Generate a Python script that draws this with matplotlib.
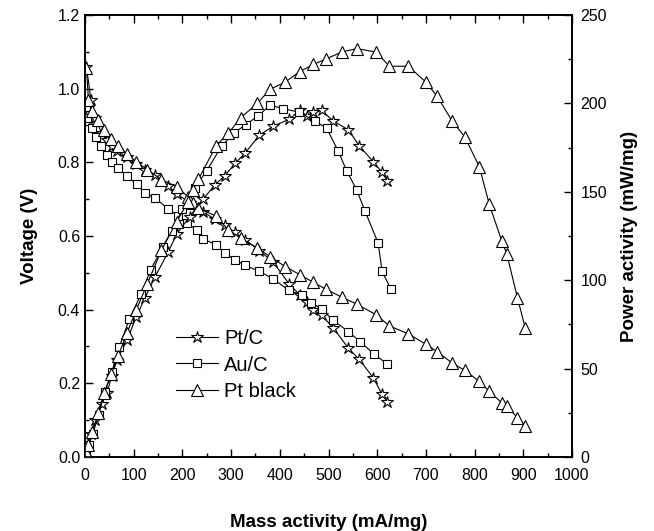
import matplotlib
matplotlib.use('Agg')
import matplotlib.pyplot as plt
from matplotlib.ticker import MultipleLocator, FormatStrFormatter

plt.rcParams['font.family'] = ['Liberation Sans', 'DejaVu Sans']

# ---- data ----
# Pt/C (stars)
ptc_x = [3, 12, 21, 34, 45, 55, 66, 86, 105, 123, 144, 171, 188, 215, 243, 267,
         287, 308, 329, 358, 386, 419, 441, 455, 468, 486, 510, 541, 563, 592, 610, 621]
ptc_v = [1.06, 0.97, 0.92, 0.88, 0.86, 0.845, 0.83, 0.815, 0.795, 0.78, 0.765, 0.735,
         0.715, 0.69, 0.665, 0.645, 0.63, 0.61, 0.59, 0.56, 0.53, 0.47, 0.44, 0.42,
         0.40, 0.385, 0.35, 0.295, 0.265, 0.215, 0.17, 0.15]
ptc_p = [5, 13, 21, 30, 36, 46, 55, 66, 79, 90, 102, 116, 126, 136, 146, 154,
         159, 166, 172, 182, 187, 191, 196, 193, 195, 196, 190, 185, 176, 167, 161, 156]

# Au/C (squares)
auc_vx = [2, 5, 14, 22, 33, 45, 56, 68, 86, 106, 123, 144, 171, 190, 209, 229, 243,
          269, 287, 308, 329, 358, 387, 419, 445, 465, 486, 509, 541, 565, 593, 621]
auc_v = [0.95, 0.92, 0.893, 0.87, 0.843, 0.82, 0.80, 0.785, 0.762, 0.741, 0.717, 0.703,
         0.673, 0.655, 0.635, 0.617, 0.592, 0.576, 0.554, 0.535, 0.52, 0.504, 0.483,
         0.452, 0.44, 0.419, 0.401, 0.372, 0.340, 0.313, 0.28, 0.252]
auc_px = [2, 8, 16, 28, 41, 55, 70, 91, 115, 135, 160, 178, 200, 225, 250, 281, 305,
          330, 356, 380, 407, 440, 472, 496, 520, 537, 558, 575, 602, 610, 628]
auc_p = [2, 7, 13, 24, 37, 48, 62, 78, 92, 106, 119, 128, 140, 152, 162, 176, 183,
         188, 193, 199, 197, 195, 190, 186, 173, 162, 151, 139, 121, 105, 95]

# Pt black (triangles)
ptb_x = [3, 7, 15, 27, 39, 54, 68, 86, 105, 128, 157, 188, 211, 222, 233, 269, 294,
         320, 354, 380, 411, 441, 469, 494, 527, 558, 598, 625, 664, 700, 723, 754,
         780, 810, 830, 856, 866, 888, 904]
ptb_v = [1.056, 0.97, 0.938, 0.914, 0.889, 0.863, 0.845, 0.823, 0.802, 0.78, 0.753,
         0.734, 0.707, 0.689, 0.675, 0.654, 0.617, 0.594, 0.567, 0.544, 0.517, 0.495,
         0.474, 0.456, 0.434, 0.415, 0.386, 0.356, 0.334, 0.306, 0.286, 0.255, 0.235,
         0.205, 0.178, 0.147, 0.138, 0.107, 0.085]
ptb_p = [3, 7, 14, 25, 36, 47, 57, 70, 83, 98, 117, 133, 144, 151, 157, 176, 183,
         192, 200, 208, 212, 218, 222, 225, 229, 231, 229, 221, 221, 212, 204, 190,
         181, 164, 143, 122, 115, 90, 73]

fig = plt.figure(figsize=(6.54, 5.31), dpi=100)
ax = fig.add_axes([0.13, 0.1394, 0.7446, 0.8324])
ax2 = ax.twinx()

lw = 0.8
star = dict(marker='*', markersize=9, markerfacecolor='white', markeredgecolor='black', markeredgewidth=0.8)
sq = dict(marker='s', markersize=6, markerfacecolor='white', markeredgecolor='black', markeredgewidth=0.8)
tri = dict(marker='^', markersize=8.5, markerfacecolor='white', markeredgecolor='black', markeredgewidth=0.8)

# voltage curves
ax.plot(ptc_x, ptc_v, color='black', linewidth=lw, label='Pt/C', **star)
ax.plot(auc_vx, auc_v, color='black', linewidth=lw, label='Au/C', **sq)
ax.plot(ptb_x, ptb_v, color='black', linewidth=lw, label='Pt black', **tri)

# power curves
ax2.plot(ptc_x, ptc_p, color='black', linewidth=lw, **star)
ax2.plot(auc_px, auc_p, color='black', linewidth=lw, **sq)
ax2.plot(ptb_x, ptb_p, color='black', linewidth=lw, **tri)

ax.set_xlim(0, 1000)
ax.set_ylim(0, 1.2)
ax2.set_ylim(0, 250)

ax.xaxis.set_major_locator(MultipleLocator(100))
ax.xaxis.set_minor_locator(MultipleLocator(50))
ax.yaxis.set_major_locator(MultipleLocator(0.2))
ax.yaxis.set_minor_locator(MultipleLocator(0.1))
ax.yaxis.set_major_formatter(FormatStrFormatter('%.1f'))
ax2.yaxis.set_major_locator(MultipleLocator(50))
ax2.yaxis.set_minor_locator(MultipleLocator(25))

ax.tick_params(which='both', direction='in', top=True, right=False, labelsize=11.5)
ax.tick_params(which='major', length=6, width=1)
ax.tick_params(which='minor', length=3, width=1)
ax.tick_params(axis='x', which='major', pad=8)
ax2.tick_params(which='both', direction='in', labelsize=11.5)
ax2.tick_params(which='major', length=6, width=1, pad=6)
ax2.tick_params(which='minor', length=3, width=1)

for a in (ax, ax2):
    for s in a.spines.values():
        s.set_linewidth(1.2)

ax.set_xlabel('Mass activity (mA/mg)', fontsize=13.5, fontweight='bold', labelpad=22)
ax.set_ylabel('Voltage (V)', fontsize=13.5, fontweight='bold', labelpad=14)
ax2.set_ylabel('Power activity (mW/mg)', fontsize=13.5, fontweight='bold', labelpad=10)

ax.legend(loc='center left', bbox_to_anchor=(0.187, 0.208), frameon=False,
          fontsize=14.5, handlelength=2.1, handletextpad=0.3, labelspacing=0.35,
          borderpad=0, borderaxespad=0)

fig.savefig('out.png', dpi=100)
